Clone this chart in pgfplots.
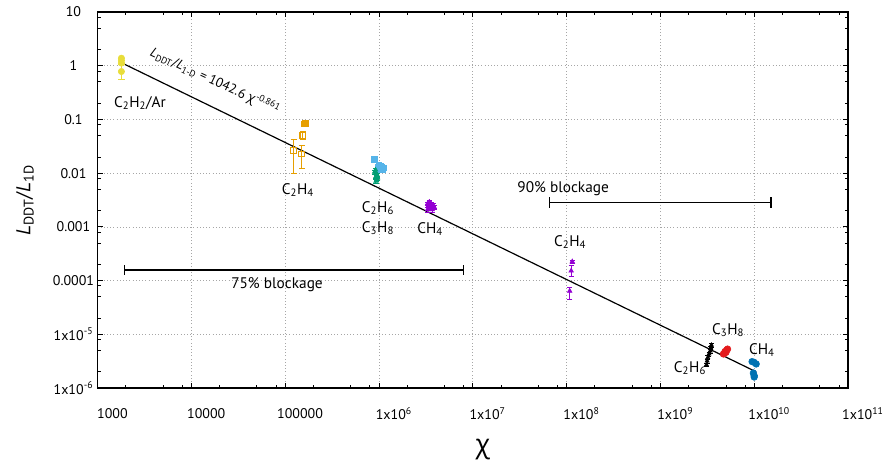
\documentclass[border=0pt]{standalone}
\usepackage{fontspec}
\setmainfont{PT Sans}
\newfontfamily\gr{Open Sans}
\usepackage{pgfplots}
\pgfplotsset{compat=1.18}
\definecolor{cyel}{RGB}{232,221,58}
\definecolor{corg}{RGB}{230,159,0}
\definecolor{clbl}{RGB}{86,180,233}
\definecolor{cgrn}{RGB}{0,158,115}
\definecolor{cpur}{RGB}{148,0,211}
\definecolor{cred}{RGB}{228,26,28}
\definecolor{cblu}{RGB}{0,114,178}
\newcommand{\lab}{\fontsize{11.5}{13}\selectfont}
\begin{document}
\begin{tikzpicture}
\path[use as bounding box] (-73.1pt,-60pt) rectangle (591.4pt,291pt);
\begin{axis}[
  at={(0,0)}, anchor=south west,
  scale only axis, width=562.9pt, height=282pt,
  xmode=log, ymode=log,
  xmin=1000, xmax=1e11, ymin=1e-6, ymax=10,
  axis line style={line width=1.1pt},
  tick align=inside,
  major tick length=4pt, minor tick length=2.3pt,
  tick style={black, line width=0.6pt},
  xtick={1e3,1e4,1e5,1e6,1e7,1e8,1e9,1e10,1e11},
  xticklabels={1000,10000,100000,1x10\textsuperscript{6},1x10\textsuperscript{7},1x10\textsuperscript{8},1x10\textsuperscript{9},1x10\textsuperscript{10},1x10\textsuperscript{11}},
  ytick={1e-6,1e-5,1e-4,1e-3,1e-2,0.1,1,10},
  yticklabels={1x10\textsuperscript{-6},1x10\textsuperscript{-5},0.0001,0.001,0.01,0.1,1,10},
  minor xtick={2e3,5e3,8e3,2e4,5e4,8e4,2e5,5e5,8e5,2e6,5e6,8e6,2e7,5e7,8e7,2e8,5e8,8e8,2e9,5e9,8e9,2e10,5e10,8e10},
  minor ytick={2e-6,5e-6,8e-6,2e-5,5e-5,8e-5,2e-4,5e-4,8e-4,2e-3,5e-3,8e-3,0.02,0.05,0.08,0.2,0.5,0.8,2,5,8},
  ticklabel style={font=\fontsize{10.5}{12}\selectfont},
  xticklabel style={anchor=center, yshift=-19pt, xshift=11.2pt},
  yticklabel style={anchor=center, xshift=-18pt},
  grid=major,
  major grid style={dotted, gray!70, line width=0.5pt},
  every axis x label/.style={at={(axis description cs:0.5,0)}, anchor=center, yshift=-46.5pt, xshift=7.7pt},
  every axis y label/.style={at={(axis description cs:0,0.5)}, xshift=-54.4pt, anchor=center, rotate=90},
  xlabel={\fontsize{20}{22}\selectfont\gr χ},
  ylabel={\fontsize{15}{17}\selectfont\textit{L}\textsubscript{DDT}/\textit{L}\textsubscript{1D}},
  error bars/error bar style={line width=0.7pt},
  clip=false,
]
% fit line
\addplot[black, line width=0.9pt] coordinates {(1766,1.156) (1.05e10,2.0e-6)};
% C2H2/Ar
\addplot[only marks, mark=*, mark size=2.4pt, color=cyel] coordinates {(1800,1.38) (1800,1.25) (1800,1.12)};
\addplot[only marks, mark=*, mark size=2.4pt, color=cyel, error bars/.cd, y dir=both, y explicit] coordinates {(1800,0.78) += (0,0.29) -= (0,0.215)};
% C2H4 (orange)
\addplot[only marks, mark=square*, mark size=2.2pt, color=corg] coordinates {(1.58e5,0.083) (1.62e5,0.086) (1.65e5,0.084)};
\addplot[only marks, mark=square, mark size=2.2pt, color=corg, line width=0.8pt, error bars/.cd, y dir=both, y explicit] coordinates {
(1.55e5,0.051) += (0,0.010) -= (0,0.008)
(1.24e5,0.026) += (0,0.0167) -= (0,0.0161)
(1.50e5,0.0227) += (0,0.0106) -= (0,0.0104)
};
% C3H8 light blue
\addplot[only marks, mark=square*, mark size=2pt, color=clbl] coordinates {
(8.9e5,0.0182) (1.0e6,0.0145) (1.04e6,0.0138) (1.08e6,0.013) (1.12e6,0.0127) (1.06e6,0.0118) (1.0e6,0.0122) (1.1e6,0.0115) (0.97e6,0.0128)};
% C2H6 green
\addplot[only marks, mark=triangle*, mark size=2pt, color=cgrn, error bars/.cd, y dir=both, y explicit] coordinates {
(0.92e6,0.0115) +- (0,0.0008)
(0.90e6,0.0105) +- (0,0.0008)
(0.94e6,0.0098) +- (0,0.0008)
(0.96e6,0.0092) +- (0,0.0007)
(0.93e6,0.0087) +- (0,0.0007)
(0.97e6,0.0082) +- (0,0.0007)
(0.95e6,0.0077) +- (0,0.0006)
(0.93e6,0.0071) +- (0,0.0006)
};
% CH4 purple
\addplot[only marks, mark=triangle*, mark size=2pt, color=cpur, error bars/.cd, y dir=both, y explicit] coordinates {
(3.3e6,0.0027) +- (0,0.0002)
(3.45e6,0.0029) +- (0,0.0002)
(3.6e6,0.0027) +- (0,0.0002)
(3.5e6,0.0024) +- (0,0.0002)
(3.8e6,0.0025) +- (0,0.0002)
(3.9e6,0.0023) +- (0,0.0002)
(3.4e6,0.0022) +- (0,0.0002)
(3.7e6,0.0021) +- (0,0.0002)
(3.3e6,0.0021) +- (0,0.0002)
};
% C2H4 purple 1e8
\addplot[only marks, mark=triangle*, mark size=2pt, color=cpur, error bars/.cd, y dir=both, y explicit] coordinates {
(1.15e8,2.25e-4) +- (0,0.15e-4)
(1.12e8,1.52e-4) += (0,0.4e-4) -= (0,0.3e-4)
(1.08e8,6.4e-5) += (0,0.95e-5) -= (0,1.93e-5)
};
% C2H6 black
\addplot[only marks, mark=triangle*, mark size=1.8pt, color=black, error bars/.cd, y dir=both, y explicit] coordinates {
(3.5e9,6.3e-6) +- (0,0.5e-6)
(3.45e9,5.6e-6) +- (0,0.4e-6)
(3.4e9,4.9e-6) +- (0,0.4e-6)
(3.3e9,4.3e-6) +- (0,0.35e-6)
(3.2e9,3.7e-6) +- (0,0.3e-6)
(3.15e9,3.2e-6) +- (0,0.25e-6)
(3.1e9,2.7e-6) +- (0,0.2e-6)
};
% C3H8 red
\addplot[only marks, mark=*, mark size=2.5pt, color=cred] coordinates {
(4.7e9,4.3e-6) (4.9e9,4.8e-6) (5.1e9,5.1e-6) (4.8e9,4.4e-6) (5.0e9,4.6e-6) (5.2e9,5.3e-6)};
% CH4 blue
\addplot[only marks, mark=*, mark size=2.5pt, color=cblu] coordinates {
(9.5e9,3.1e-6) (1.0e10,3.0e-6) (1.05e10,2.8e-6) (9.8e9,1.9e-6) (1.0e10,1.7e-6) (1.0e10,1.6e-6)};
% blockage bars
\draw[line width=1pt, |-|] (axis cs:6.5e7,0.00281) -- (axis cs:1.54e10,0.00281);
\draw[line width=1pt, |-|] (axis cs:1920,1.57e-4) -- (axis cs:8.1e6,1.57e-4);
\node[font=\lab] at (axis cs:9.2e7,0.00506) {90\% blockage};
\node[font=\lab] at (axis cs:82000,8.24e-5) {75\% blockage};
% labels
\node[font=\lab] at (axis cs:2840,0.2018) {C\textsubscript{2}H\textsubscript{2}/Ar};
\node[font=\lab] at (axis cs:137000,0.00484) {C\textsubscript{2}H\textsubscript{4}};
\node[font=\lab] at (axis cs:977000,0.00224) {C\textsubscript{2}H\textsubscript{6}};
\node[font=\lab] at (axis cs:977000,0.00095) {C\textsubscript{3}H\textsubscript{8}};
\node[font=\lab] at (axis cs:3.51e6,0.00091) {CH\textsubscript{4}};
\node[font=\lab] at (axis cs:1.09e8,5.21e-4) {C\textsubscript{2}H\textsubscript{4}};
\node[font=\lab] at (axis cs:5.27e9,1.2e-5) {C\textsubscript{3}H\textsubscript{8}};
\node[font=\lab] at (axis cs:1.21e10,5.08e-6) {CH\textsubscript{4}};
\node[font=\lab] at (axis cs:2.07e9,2.34e-6) {C\textsubscript{2}H\textsubscript{6}};
\node[font=\fontsize{10}{12}\selectfont, rotate=-25] at (axis cs:17900,0.51) {\textit{L}\textsubscript{DDT}/\textit{L}\textsubscript{1-D} = 1042.6 {\gr χ}\textsuperscript{-0.861}};
\end{axis}
\end{tikzpicture}
\end{document}
